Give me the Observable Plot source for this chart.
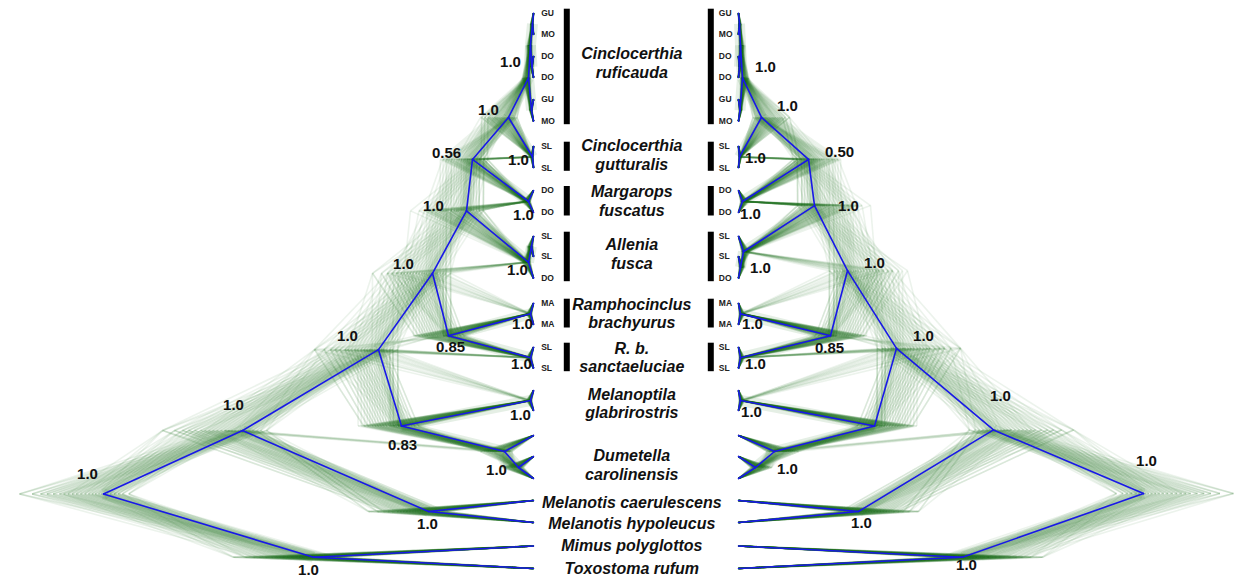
<!DOCTYPE html>
<html><head><meta charset="utf-8">
<script src="https://cdn.jsdelivr.net/npm/d3@7"></script>
<script src="https://cdn.jsdelivr.net/npm/@observablehq/plot@0.6"></script>
<style>html,body{margin:0;padding:0;background:#fff}</style>
</head><body><div id="chart"></div>
<script>
// ================= DATA =================
// tips (top to bottom) with population codes and vertical row positions
const tipIds   = ["ruf1","ruf2","ruf3","ruf4","ruf5","ruf6","gut1","gut2","mar1","mar2","all1","all2","all3","ram1","ram2","san1","san2","mel1","mel2","dum1","dum2","dum3","mcae","mhyp","mpol","truf"];
const tipCodes = ["GU","MO","DO","DO","GU","MO","SL","SL","DO","DO","SL","SL","DO","MA","MA","SL","SL","","","","","","","","",""];
const tipRows  = [12.7,34,55.7,77,99,120.7,145.7,167.3,190,212,235.7,256,277.7,302.7,324,346.7,367.7,390,410,435,456,478,500,522,545.5,568];

// topologies (Newick with internal node names)
const leftNewick  = "((((((((((ruf1,ruf2)r1,(ruf3,ruf4)r2)r12,(ruf5,ruf6)r3)RUF,(gut1,gut2)GUT)G,(mar1,mar2)MAR)F,((all1,all2)ALLi,all3)ALL)E,((ram1,ram2)RBR,(san1,san2)RBS)RAM)C,((mel1,mel2)MLP,(dum1,(dum2,dum3)DUMi)DUM)D)B,(mcae,mhyp)MEL)A,(mpol,truf)MT)root";
const rightNewick = "((((((((((ruf1,ruf2)r1,(ruf3,ruf4)r2)r12,(ruf5,ruf6)r3)RUF,(gut1,gut2)GUT)G,(mar1,mar2)MAR)F,(all1,(all2,all3)ALLi)ALL)E,((ram1,ram2)RBR,(san1,san2)RBS)RAM)C,((mel1,mel2)MLP,(dum1,(dum2,dum3)DUMi)DUM)D)B,(mcae,mhyp)MEL)A,(mpol,truf)MT)root";

const nodeNames    = ["root","A","MT","B","MEL","C","D","E","RAM","F","ALL","ALLi","G","MAR","RUF","r12","r1","r2","r3","GUT","RBR","RBS","MLP","DUM","DUMi"];
// node ages (relative time units)
const leftAges     = [4.30,2.91,2.20,1.55,1.05,1.01,1.32,0.67,0.85,0.61,0.05,0.02,0.25,0.05,0.05,0.03,0.01,0.015,0.02,0.01,0.03,0.03,0.03,0.29,0.15];
const rightAges    = [4.05,2.55,2.24,1.58,1.20,1.09,1.36,0.76,0.92,0.70,0.05,0.02,0.23,0.04,0.04,0.02,0.01,0.01,0.015,0.01,0.02,0.02,0.02,0.36,0.17];
// posterior support labels
const leftSupport  = ["1.0","1.0","1.0","1.0","1.0","1.0","0.83","1.0","0.85","0.56","1.0","","1.0","1.0","1.0","","","","","1.0","1.0","1.0","1.0","1.0",""];
const rightSupport = ["1.0","1.0","1.0","1.0","1.0","1.0","","1.0","0.85","0.50","1.0","","1.0","1.0","1.0","","","","","1.0","1.0","1.0","1.0","1.0",""];
// spread of node ages in the posterior sample
const leftSpread   = [0.42,0.40,0.40,0.32,0.30,0.30,0.28,0.28,0.25,0.25,0.03,0.02,0.14,0.03,0.03,0.02,0.01,0.01,0.01,0.01,0.02,0.02,0.02,0.12,0.08];
const rightSpread  = [0.45,0.40,0.40,0.32,0.30,0.30,0.28,0.28,0.25,0.25,0.03,0.02,0.14,0.03,0.03,0.02,0.01,0.01,0.01,0.01,0.02,0.02,0.02,0.12,0.08];
// discordant attachments in the posterior sample: [clade, alternative parent, frequency]
const leftAlt  = [["MAR","E",0.40],["GUT","F",0.25],["RBR","C",0.15],["RBS","B",0.15],["MLP","B",0.17],["DUM","A",0.10],["ALL","C",0.20],["RAM","B",0.12]];
const rightAlt = [["MAR","E",0.45],["GUT","F",0.25],["RBR","C",0.15],["RBS","B",0.15],["MLP","B",0.17],["DUM","A",0.10],["ALL","C",0.20],["RAM","B",0.12]];
// standardized offsets of the posterior sample of trees
const sampleOffsets = [-0.6,-0.45,-0.35,-0.25,-0.15,-0.08,0,0.06,0.12,0.2,0.28,0.36,0.45,0.55,0.65,0.75,0.85,0.95,1.05,1.2,1.35,1.5,1.7,2.0];

// clade bars and names
const cladeTips   = [["ruf1","ruf6"],["gut1","gut2"],["mar1","mar2"],["all1","all3"],["ram1","ram2"],["san1","san2"]];
const speciesLines = ["Cinclocerthia","ruficauda","Cinclocerthia","gutturalis","Margarops","fuscatus","Allenia","fusca","Ramphocinclus","brachyurus","R. b.","sanctaeluciae","Melanoptila","glabrirostris","Dumetella","carolinensis","Melanotis caerulescens","Melanotis hypoleucus","Mimus polyglottos","Toxostoma rufum"];

// ================= LAYOUT =================
const W = 1258, H = 584;
const GAP = 2.05;                 // distance between the two tip columns (x units)
const PX = 100;                   // pixels per x unit
const speciesLineY = [53.3,72.3,145.7,164.3,191.7,210,244,263.3,304,322.7,348.3,366,394,412.7,455.7,474,502.7,523,545.7,568.3];
const leftLabelOffset = {RUF:[-18,-15.6],G:[-20,-7.6],F:[-26,-6.6],GUT:[-14,2.8],E:[-33,-4.4],MAR:[-5,14],C:[-29,-9],ALL:[-11,7.5],RBR:[-8,10.7],RAM:[2,11.4],RBS:[-9,6],B:[-31,-13],A:[-9,-25],root:[-16,-20],D:[1,19.5],MEL:[-1,12.3],MLP:[-10,14.3],DUM:[-8,18.3],MT:[-5,12.5]};
const rightLabelOffset = {RUF:[23,-10.7],G:[26,-11],GUT:[16,1.2],F:[31,-7],MAR:[8,12.3],E:[34,1],ALL:[17,16],C:[27,-7.5],RBR:[12,10.7],RAM:[-1,12.4],RBS:[15,6],B:[27,-12],MLP:[11,11.7],DUM:[13,17.3],MEL:[3,11.7],MT:[4,8.3],A:[7,-34],root:[3,-32]};

// ================= BUILD =================
function parseNewick(s){
  let i = 0;
  function node(){
    const n = {children: []};
    if (s[i] === "("){
      i++; n.children.push(node());
      while (s[i] === ","){ i++; n.children.push(node()); }
      i++;
    }
    let name = "";
    while (i < s.length && !",()".includes(s[i])) name += s[i++];
    n.name = name; return n;
  }
  return node();
}
function buildTree(newick, ages, spreads, side){
  const root = parseNewick(newick), all = [];
  (function walk(n, p){
    n.parent = p; all.push(n);
    if (n.children.length){ n.j = nodeNames.indexOf(n.name); n.age = ages[n.j]; n.spread = spreads[n.j]; }
    else { n.age = 0; n.spread = 0; n.y = tipRows[tipIds.indexOf(n.name)]; }
    n.children.forEach(c => walk(c, n));
  })(root, null);
  (function ypos(n){ if (n.children.length){ n.children.forEach(ypos); n.y = d3.mean(n.children, c => c.y); } })(root);
  const pos = a => side === "L" ? -a : GAP + a;
  all.forEach(n => n.x = pos(n.age));
  return {root, all, pos, side};
}
// one posterior tree: pass p and draw k pick offsets from the list for each node
function sampleAges(tree, k, p){
  const m = new Map(), nq = sampleOffsets.length;
  (function walk(n, pa){
    let a = 0;
    if (n.children.length){
      a = n.age + n.spread * sampleOffsets[(k + (7 + 4 * p) * n.j + 3 * p) % nq];
      if (pa != null) a = Math.min(a, pa - 0.004);
      a = Math.max(a, 0.004);
    }
    m.set(n, a); n.children.forEach(c => walk(c, a));
  })(tree.root, null);
  return m;
}
function cloudEdges(tree, alt){
  const out = [], nq = sampleOffsets.length;
  const byName = new Map(tree.all.map(n => [n.name, n]));
  for (let p = 0; p < 3; p++) for (let k = 0; k < nq; k++){
    const m = sampleAges(tree, k, p);
    tree.all.forEach(n => { if (n.parent) out.push({x1: tree.pos(m.get(n.parent)), y1: n.parent.y, x2: tree.pos(m.get(n)), y2: n.y}); });
    alt.forEach(([c, q, w]) => {
      if (((k * 5 + p * 11) % nq) < Math.round(w * nq)){
        const cn = byName.get(c), pn = byName.get(q);
        out.push({x1: tree.pos(m.get(pn)), y1: pn.y, x2: tree.pos(m.get(cn)), y2: cn.y});
      }
    });
  }
  return out;
}
function consensusEdges(tree){
  return tree.all.filter(n => n.parent).map(n => ({x1: n.parent.x, y1: n.parent.y, x2: n.x, y2: n.y, internal: n.children.length > 0}));
}
function supportLabels(tree, support, offsets){
  return tree.all.filter(n => n.children.length && support[n.j] && offsets[n.name]).map(n => ({
    x: n.x + offsets[n.name][0] / PX, y: n.y + offsets[n.name][1], text: support[n.j]
  }));
}

const L = buildTree(leftNewick, leftAges, leftSpread, "L");
const R = buildTree(rightNewick, rightAges, rightSpread, "R");
const cloud = cloudEdges(L, leftAlt).concat(cloudEdges(R, rightAlt));
const blue = consensusEdges(L).concat(consensusEdges(R));
const halo = blue.filter(d => d.internal);
const support = supportLabels(L, leftSupport, leftLabelOffset).concat(supportLabels(R, rightSupport, rightLabelOffset));
const tipTable = tipIds.map((id, i) => ({id, code: tipCodes[i], y: tipRows[i]})).filter(d => d.code);
const bars = cladeTips.map(([a, b]) => ({y1: tipRows[tipIds.indexOf(a)] - 4, y2: tipRows[tipIds.indexOf(b)] + 3.5}));
const species = speciesLines.map((t, i) => ({text: t, y: speciesLineY[i]}));

const x0 = -(533 / PX);
const chart = Plot.plot({
  width: W, height: H, margin: 0,
  style: {fontFamily: "'Liberation Sans', Arial, sans-serif", background: "#fff", overflow: "visible"},
  x: {domain: [x0, x0 + W / PX], range: [0, W], axis: null},
  y: {domain: [0, H], range: [0, H], axis: null},
  marks: [
    Plot.link(halo, {x1: "x1", y1: "y1", x2: "x2", y2: "y2", stroke: "#2c7a2c", strokeOpacity: 0.12, strokeWidth: 11}),
    Plot.link(cloud, {x1: "x1", y1: "y1", x2: "x2", y2: "y2", stroke: "#236f23", strokeOpacity: 0.085, strokeWidth: 1.6}),
    Plot.link(blue, {x1: "x1", y1: "y1", x2: "x2", y2: "y2", stroke: "#1818e8", strokeWidth: 1.6, strokeLinecap: "round"}),
    Plot.text(tipTable, {x: () => 0, y: "y", text: "code", textAnchor: "start", dx: 7.7, fontSize: 8.5, fontWeight: "bold", fill: "#222"}),
    Plot.text(tipTable, {x: () => GAP, y: "y", text: "code", textAnchor: "start", dx: -19.7, fontSize: 8.5, fontWeight: "bold", fill: "#222"}),
    Plot.ruleX(bars, {x: () => 0, y1: "y1", y2: "y2", dx: 33.3, stroke: "#000", strokeWidth: 6}),
    Plot.ruleX(bars, {x: () => GAP, y1: "y1", y2: "y2", dx: -27.7, stroke: "#000", strokeWidth: 6}),
    Plot.text(species, {x: () => GAP / 2, y: "y", text: "text", dx: -4.2, fontSize: 16, fontWeight: "bold", fontStyle: "italic", fill: "#111"}),
    Plot.text(support, {x: "x", y: "y", text: "text", fontSize: 15, fontWeight: "bold", fill: "#111"})
  ]
});
document.getElementById("chart").appendChild(chart);
</script>
</body></html>
